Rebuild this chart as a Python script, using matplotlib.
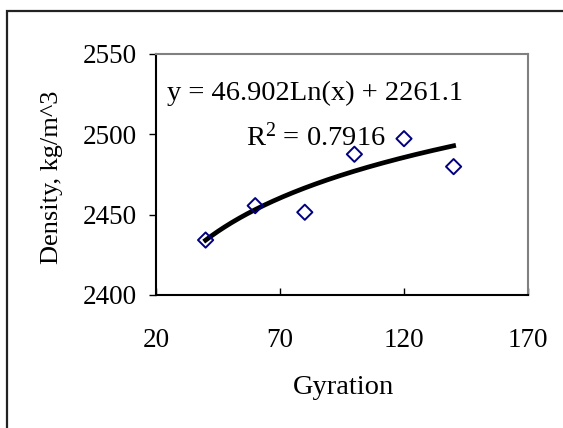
import numpy as np
import matplotlib.pyplot as plt
from matplotlib.patches import Rectangle

plt.rcParams['font.family'] = ['Liberation Serif', 'DejaVu Serif']
plt.rcParams['mathtext.fontset'] = 'custom'
plt.rcParams['mathtext.rm'] = 'Liberation Serif'
plt.rcParams['mathtext.it'] = 'Liberation Serif:italic'

# Datos
gyration = [40, 60, 80, 100, 120, 140]
density = [2434.2, 2455.6, 2451.5, 2487.6, 2497.3, 2479.9]

# Línea de tendencia logarítmica (coeficientes mostrados en el gráfico)
coef_a = 46.902
coef_b = 2261.1
r2 = 0.7916

x_ticks = [20, 70, 120, 170]
y_ticks = [2400, 2450, 2500, 2550]

W, H = 563, 428
fs = 20.5
fig = plt.figure(figsize=(W / 100, H / 100), dpi=100)
ax = fig.add_axes([156 / W, 1 - 295 / H, (528 - 156) / W, (295 - 54) / H])

# Marco exterior del gráfico
fig.patches.append(Rectangle((6.5 / W, -0.1), 1.2, 1.1 - 11 / H,
                             transform=fig.transFigure, fill=False,
                             edgecolor='#222222', linewidth=1.6))

xt = np.linspace(min(gyration), max(gyration), 200)
ax.plot(xt, coef_a * np.log(xt) + coef_b, color='black', linewidth=3.4, zorder=2)
ax.scatter(gyration, density, marker='D', s=60, facecolors='none',
           edgecolors='#000080', linewidths=1.4, zorder=3)

ax.set_xlim(20, 170)
ax.set_ylim(2400, 2550)
ax.set_xticks(x_ticks)
ax.set_yticks(y_ticks)
ax.tick_params(axis='x', direction='in', length=5, width=1, labelsize=19.5, pad=24)
ax.tick_params(axis='y', direction='out', length=5, width=1, labelsize=19.5, pad=9)

for s in ['left', 'bottom']:
    ax.spines[s].set_color('black')
    ax.spines[s].set_linewidth(1.5)
for s in ['top', 'right']:
    ax.spines[s].set_color('#808080')
    ax.spines[s].set_linewidth(1.5)

ax.text(315 / W, 1 - 93 / H, f"y = {coef_a}Ln(x) + {coef_b}",
        transform=fig.transFigure, ha='center', va='center', fontsize=fs)
ax.text(316 / W, 1 - 137 / H, f"R$^{{2}}$ = {r2}",
        transform=fig.transFigure, ha='center', va='center', fontsize=fs)

fig.text(52 / W, 1 - 177 / H, "Density, kg/m^3", rotation=90,
         ha='center', va='center', fontsize=19)
fig.text(344 / W, 1 - 387 / H, "Gyration", ha='center', va='center', fontsize=fs)

fig.savefig('out.png', dpi=100)
